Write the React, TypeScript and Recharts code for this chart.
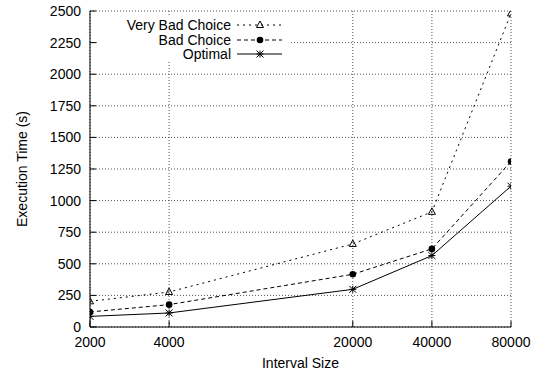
import { LineChart, Line, XAxis, YAxis, CartesianGrid, Legend, Label } from "recharts";

// execution time (s) per interval size
const intervalSizes = [2000, 4000, 20000, 40000, 80000];
const veryBadChoice = [203, 277, 657, 911, 2481];
const badChoice = [119, 177, 417, 618, 1309];
const optimal = [84, 111, 298, 565, 1114];
const yTicks = [0, 250, 500, 750, 1000, 1250, 1500, 1750, 2000, 2250, 2500];

const data = intervalSizes.map((size, i) => ({
  size,
  veryBad: veryBadChoice[i],
  bad: badChoice[i],
  optimal: optimal[i],
}));

const FONT = '"Liberation Sans", Arial, Helvetica, sans-serif';

// eslint-disable-next-line @typescript-eslint/no-explicit-any
function TriangleMark({ cx, cy }: any) {
  if (cx == null || cy == null) return null;
  return (
    <polygon
      points={`${cx},${cy - 4} ${cx - 3.5},${cy + 2.5} ${cx + 3.5},${cy + 2.5}`}
      fill="none"
      stroke="#000"
      strokeWidth={1}
    />
  );
}

// eslint-disable-next-line @typescript-eslint/no-explicit-any
function CircleMark({ cx, cy }: any) {
  if (cx == null || cy == null) return null;
  return <circle cx={cx} cy={cy} r={3.3} fill="#000" stroke="none" />;
}

// eslint-disable-next-line @typescript-eslint/no-explicit-any
function StarMark({ cx, cy }: any) {
  if (cx == null || cy == null) return null;
  const s = 3.5;
  return (
    <g stroke="#000" strokeWidth={1}>
      <line x1={cx - s} y1={cy} x2={cx + s} y2={cy} />
      <line x1={cx} y1={cy - s} x2={cx} y2={cy + s} />
      <line x1={cx - s} y1={cy - s} x2={cx + s} y2={cy + s} />
      <line x1={cx - s} y1={cy + s} x2={cx + s} y2={cy - s} />
    </g>
  );
}

const SERIES = [
  { key: "veryBad", name: "Very Bad Choice", dash: "2 4", Mark: TriangleMark },
  { key: "bad", name: "Bad Choice", dash: "4 3", Mark: CircleMark },
  { key: "optimal", name: "Optimal", dash: undefined, Mark: StarMark },
];

function LegendBox() {
  return (
    <div style={{ background: "#fff", paddingTop: 2, fontFamily: FONT, fontSize: 14, width: 192, height: 44 }}>
      {SERIES.map(({ key, name, dash, Mark }) => (
        <div key={key} style={{ display: "flex", alignItems: "center", height: 14.5 }}>
          <span style={{ width: 133, textAlign: "right", lineHeight: "14.5px", color: "#000" }}>{name}</span>
          <svg width={59} height={14} style={{ display: "block" }}>
            <line x1={6} x2={51} y1={7} y2={7} stroke="#000" strokeWidth={1} strokeDasharray={dash} />
            <Mark cx={29} cy={7} />
          </svg>
        </div>
      ))}
    </div>
  );
}

export default function App() {
  return (
    <div style={{ position: "absolute", left: 0, top: 0, background: "#fff" }}>
      <LineChart
        width={543}
        height={376}
        data={data}
        margin={{ top: 11, right: 32, bottom: 0, left: 0 }}
        style={{ fontFamily: FONT }}
      >
        <CartesianGrid stroke="#555" strokeDasharray="1 2" />
        <XAxis
          dataKey="size"
          type="number"
          scale="log"
          domain={[2000, 80000]}
          ticks={intervalSizes}
          allowDataOverflow
          height={49}
          tickSize={-6}
          tickMargin={16}
          stroke="#000"
          tick={{ fontSize: 14, fill: "#000" }}
        >
          <Label
            // eslint-disable-next-line @typescript-eslint/no-explicit-any
            content={({ viewBox }: any) => (
              <text x={viewBox.x + viewBox.width / 2} y={viewBox.y + 41} textAnchor="middle" fontSize={14} fill="#000">
                Interval Size
              </text>
            )}
          />
        </XAxis>
        <XAxis
          xAxisId="top"
          orientation="top"
          dataKey="size"
          type="number"
          scale="log"
          domain={[2000, 80000]}
          ticks={intervalSizes}
          allowDataOverflow
          height={0}
          tickSize={-6}
          tick={false}
          stroke="#000"
        />
        <YAxis
          type="number"
          domain={[0, 2500]}
          ticks={yTicks}
          allowDataOverflow
          width={90}
          tickSize={-6}
          tickMargin={15}
          stroke="#000"
          tick={{ fontSize: 14, fill: "#000" }}
        >
          <Label
            // eslint-disable-next-line @typescript-eslint/no-explicit-any
            content={({ viewBox }: any) => {
              const cx = viewBox.x + 26.7;
              const cy = viewBox.y + viewBox.height / 2;
              return (
                <text x={cx} y={cy} transform={`rotate(-90 ${cx} ${cy})`} textAnchor="middle" fontSize={14} fill="#000">
                  Execution Time (s)
                </text>
              );
            }}
          />
        </YAxis>
        <YAxis
          yAxisId="right"
          orientation="right"
          type="number"
          domain={[0, 2500]}
          ticks={yTicks}
          allowDataOverflow
          width={0}
          tickSize={-6}
          tick={false}
          stroke="#000"
        />
        <Legend
          layout="vertical"
          align="center"
          verticalAlign="middle"
          wrapperStyle={{ left: 98, top: 16, width: 192 }}
          content={() => <LegendBox />}
        />
        {SERIES.map(({ key, name, dash, Mark }) => (
          <Line
            key={key}
            dataKey={key}
            name={name}
            type="linear"
            stroke="#000"
            strokeWidth={1}
            strokeDasharray={dash}
            // eslint-disable-next-line @typescript-eslint/no-explicit-any
            dot={(p: any) => <Mark key={`${key}-${p.index}`} cx={p.cx} cy={p.cy} />}
            activeDot={false}
            isAnimationActive={false}
          />
        ))}
      </LineChart>
    </div>
  );
}
